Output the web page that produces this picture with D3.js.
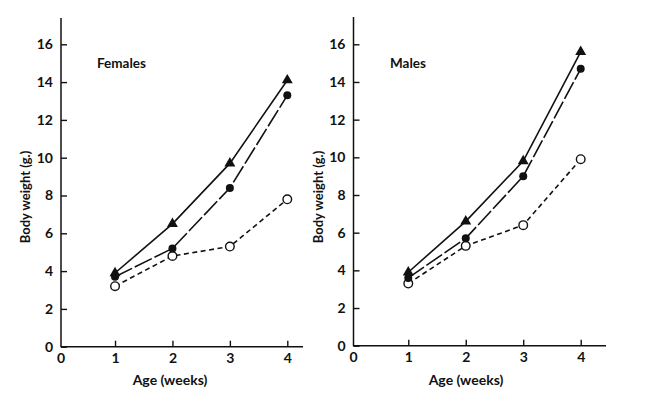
<!DOCTYPE html>
<html>
<head>
<meta charset="utf-8">
<script src="https://cdn.jsdelivr.net/npm/d3@7"></script>
<style>
  html, body { margin: 0; padding: 0; background: #fff; }
  svg { display: block; }
  text { font-family: Lato, "Open Sans", sans-serif; fill: #111; }
</style>
</head>
<body>
<svg id="chart" width="645" height="396"></svg>
<script>
// ---- data ----
const weeks = [1, 2, 3, 4];
const xTickValues = [1, 2, 3, 4];
const yTickValues = [0, 2, 4, 6, 8, 10, 12, 14, 16];
const panelTitles = ["Females", "Males"];

const femalesTriangle = [3.9, 6.5, 9.7, 14.1];
const femalesFilled   = [3.7, 5.2, 8.4, 13.3];
const femalesOpen     = [3.2, 4.8, 5.3, 7.8];

const malesTriangle = [3.9, 6.6, 9.8, 15.6];
const malesFilled   = [3.6, 5.7, 9.0, 14.7];
const malesOpen     = [3.3, 5.3, 6.4, 9.9];

// ---- layout ----
const svg = d3.select("#chart");
const ink = "#111";

const panels = [
  { title: panelTitles[0], series: [femalesOpen, femalesFilled, femalesTriangle],
    axisX: 61, xRange: [57.6, 287.3], xEnd: 303, yRange: [346.7, 44.3], yTop: 18,
    titleX: 97, yLabelX: 25, xLabelX: 170 },
  { title: panelTitles[1], series: [malesOpen, malesFilled, malesTriangle],
    axisX: 353.5, xRange: [350.8, 580.7], xEnd: 606, yRange: [345.7, 44.3], yTop: 17,
    titleX: 390, yLabelX: 318, xLabelX: 466 }
];

const styles = [
  { dash: "5,3.5", marker: "open" },
  { dash: "19,3", marker: "filled" },
  { dash: null, marker: "triangle" }
];

panels.forEach(p => {
  const x = d3.scaleLinear().domain([0, 4]).range(p.xRange);
  const y = d3.scaleLinear().domain([0, 16]).range(p.yRange);
  const g = svg.append("g");
  const y0 = y(0);

  // axis lines
  g.append("line").attr("x1", p.axisX).attr("x2", p.axisX)
    .attr("y1", p.yTop).attr("y2", y0 + 0.5)
    .attr("stroke", ink).attr("stroke-width", 1.5);
  g.append("line").attr("x1", p.axisX).attr("x2", p.xEnd)
    .attr("y1", y0).attr("y2", y0)
    .attr("stroke", ink).attr("stroke-width", 1.5);

  // y axis ticks (inward) + labels
  const yAxis = d3.axisLeft(y).tickValues(yTickValues).tickSize(-6).tickPadding(8)
    .tickFormat(d3.format("d"));
  const ya = g.append("g").attr("transform", `translate(${p.axisX},0)`).call(yAxis);
  ya.select(".domain").remove();
  ya.selectAll(".tick line").attr("stroke", ink).attr("stroke-width", 1.4);
  ya.selectAll(".tick text").attr("font-size", 14).attr("font-weight", 700)
    .attr("fill", ink).style("font-family", "Lato, sans-serif");

  // x axis ticks (inward) + labels
  const xAxis = d3.axisBottom(x).tickValues(xTickValues).tickSize(-6).tickPadding(6)
    .tickFormat(d3.format("d"));
  const xa = g.append("g").attr("transform", `translate(0,${y0})`).call(xAxis);
  xa.select(".domain").remove();
  xa.selectAll(".tick line").attr("stroke", ink).attr("stroke-width", 1.4);
  xa.selectAll(".tick text").attr("font-size", 14).attr("font-weight", 700)
    .attr("fill", ink).style("font-family", "Lato, sans-serif");
  // "0" at the origin
  g.append("text").attr("x", p.axisX).attr("y", y0 + 6).attr("dy", "0.71em")
    .attr("text-anchor", "middle").attr("font-size", 14).attr("font-weight", 700)
    .text("0");

  // axis titles
  g.append("text")
    .attr("transform", `translate(${p.yLabelX},197) rotate(-90)`)
    .attr("text-anchor", "middle").attr("dominant-baseline", "central")
    .attr("font-size", 13).attr("font-weight", 700).text("Body weight (g.)");
  g.append("text").attr("x", p.xLabelX).attr("y", 379)
    .attr("text-anchor", "middle").attr("dominant-baseline", "central")
    .attr("font-size", 14).attr("font-weight", 700).text("Age (weeks)");

  // panel title
  g.append("text").attr("x", p.titleX).attr("y", 63)
    .attr("dominant-baseline", "central")
    .attr("font-size", 13.5).attr("font-weight", 700).text(p.title);

  // series
  const line = d3.line().x((d, i) => x(weeks[i])).y(d => y(d));
  p.series.forEach((vals, si) => {
    const st = styles[si];
    const path = g.append("path").datum(vals).attr("d", line)
      .attr("fill", "none").attr("stroke", ink).attr("stroke-width", 1.6);
    if (st.dash) path.attr("stroke-dasharray", st.dash);

    const pts = g.selectAll(null).data(vals).enter();
    if (st.marker === "open") {
      pts.append("circle").attr("cx", (d, i) => x(weeks[i])).attr("cy", d => y(d))
        .attr("r", 4.3).attr("fill", "#fff").attr("stroke", ink).attr("stroke-width", 1.4);
    } else if (st.marker === "filled") {
      pts.append("circle").attr("cx", (d, i) => x(weeks[i])).attr("cy", d => y(d))
        .attr("r", 4).attr("fill", ink);
    } else {
      const tri = d3.symbol().type(d3.symbolTriangle).size(52);
      pts.append("path").attr("d", tri)
        .attr("transform", (d, i) => `translate(${x(weeks[i])},${y(d)})`)
        .attr("fill", ink);
    }
  });
});
</script>
</body>
</html>
